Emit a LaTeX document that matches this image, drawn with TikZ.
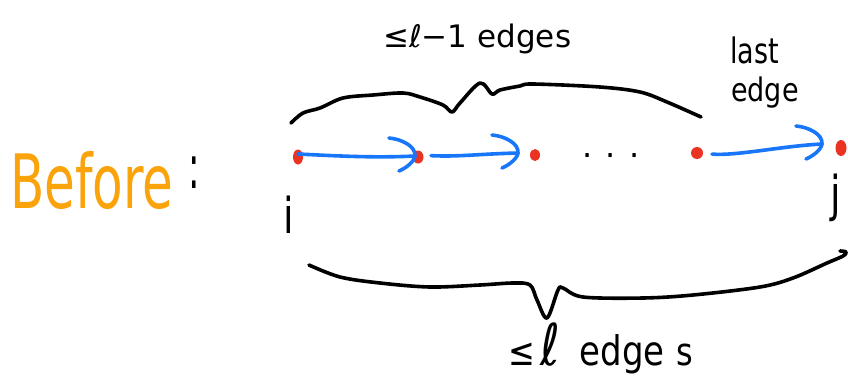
\documentclass[tikz,border=0pt]{standalone}
\usepackage{fontspec}
\usepackage{graphicx}
\setmainfont{DejaVu Sans}
\usetikzlibrary{shapes.geometric}
\definecolor{hred}{RGB}{234,51,35}
\definecolor{hblue}{RGB}{24,118,250}
\definecolor{horange}{RGB}{250,163,10}
\begin{document}
\begin{tikzpicture}[x=1pt,y=-1pt,
  ink/.style={line width=3.6pt, line cap=round, line join=round},
  brace/.style={ink, black},
  dot/.style={ellipse, fill=hred, inner sep=0pt, minimum width=11pt, minimum height=13pt},
  edge/.style={ink, hblue},
  hand/.style={inner sep=0pt, anchor=base west},
  hhead/.pic={\draw[ink, hblue] (-26,-18) .. controls (-14,-17) and (1,-10) .. (0,0) .. controls (-1,6) and (-9,12) .. (-16,15);},
]
\useasboundingbox (0,0) rectangle (848,386);
\fill[white] (0,0) rectangle (848,386);

% title
\node[hand, text=horange] (before) at (10,208) {\scalebox{1}[1.5]{\fontsize{50}{50}\selectfont Before}};
\node[hand] (colon) at (188,188) {\scalebox{1}[1.8]{\fontsize{34}{34}\selectfont :}};

% vertices
\node[dot, minimum width=10pt, minimum height=15pt] (d1) at (298,157) {};
\node[dot] (d2) at (418,157) {};
\node[dot, minimum width=10pt, minimum height=12pt] (d3) at (535,155) {};
\node[dot, minimum width=12pt, minimum height=12pt] (d4) at (697,153) {};
\node[dot, minimum width=11pt, minimum height=16pt] (d5) at (841,148) {};
\node[inner sep=0pt, anchor=base] (dots) at (611,157) {\fontsize{32}{32}\selectfont . . .};

% vertex labels
\node[hand] (li) at (283,233) {\scalebox{1}[1.3]{\fontsize{38}{38}\selectfont i}};
\node[hand] (lj) at (830,211) {\scalebox{1}[1.3]{\fontsize{38}{38}\selectfont j}};

% edge tips
\coordinate (t1) at ([shift={(-3,-1)}]d2.center);
\coordinate (t2) at ([shift={(-17,-2)}]d3.center);
\coordinate (t3) at ([shift={(-19,-4)}]d5.center);

% edges
\draw[edge] ([yshift=3pt]d1.center) .. controls +(40,2) and +(-40,2) .. (t1);
\pic at (t1) {hhead};
\draw[edge, shorten <=13pt] ([yshift=2pt]d2.center) .. controls +(40,2) and +(-40,1) .. (t2);
\pic at (t2) {hhead};
\draw[edge, shorten <=15pt] (d4.center) .. controls +(40,3) and +(-40,2) .. (t3);
\pic at (t3) {hhead};

% top brace
\draw[brace] plot[smooth, tension=0.55] coordinates {(291,123) (303,113) (320,108) (343,98) (373,95) (403,93) (420,97) (443,105) (452,112) (460,103) (480,83) (492,94) (500,90) (520,86) (533,84) (600,87) (640,92) (667,102) (701,117)};
\node[hand] (ltop) at (383,47) {\fontsize{31}{31}\selectfont ≤ℓ−1 edges};

% last edge label
\node[hand] (llast) at (730,63) {\scalebox{1}[1.3]{\fontsize{27}{27}\selectfont last}};
\node[hand] (ledge) at (731,101) {\scalebox{1}[1.2]{\fontsize{27}{27}\selectfont edge}};

% bottom brace
\draw[brace] plot[smooth, tension=0.55] coordinates {(309,265) (340,277) (380,283) (430,287) (480,285) (513,283) (530,285) (537,300) (547,318) (558,290) (563,288) (583,297) (643,298) (693,295) (760,287) (793,278) (827,263) (843,256) (846,252) (840,251)};
\node[hand] (lbot) at (508,365) {\scalebox{1}[1.2]{\fontsize{32}{32}\selectfont ≤\hspace{5pt}\scalebox{1.5}{ℓ}\hspace{20pt}{\fontsize{34}{34}\selectfont edge}\hspace{12pt}s}};
\end{tikzpicture}
\end{document}
